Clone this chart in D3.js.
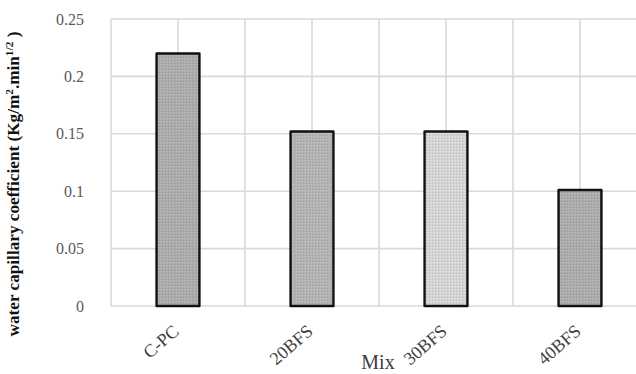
<!DOCTYPE html>
<html><head><meta charset="utf-8">
<script src="https://cdn.jsdelivr.net/npm/d3@7"></script>
<style>body{margin:0;background:#fff}svg{display:block}</style>
</head><body>
<svg id="c" width="636" height="374"></svg>
<script>
const categories = ["C-PC", "20BFS", "Mix 30BFS", "40BFS"];
const tickLabels = ["C-PC", "20BFS", "30BFS", "40BFS"];
const values = [0.22, 0.152, 0.152, 0.101];
const barColors = ["#acacac", "#b3b3b3", "#d4d4d4", "#acacac"];
const yTicks = [0, 0.05, 0.1, 0.15, 0.2, 0.25];
const yTickLabels = ["0", "0.05", "0.1", "0.15", "0.2", "0.25"];

const svg = d3.select("#c");
const L = 111, R = 647, T = 19, B = 306;
const x = d3.scaleBand().domain(categories).range([L, R]).paddingInner(0.68).paddingOuter(0.34);
const y = d3.scaleLinear().domain([0, 0.25]).range([B, T]);

// texture pattern
const defs = svg.append("defs");
barColors.forEach((c, i) => {
  const p = defs.append("pattern").attr("id", "p" + i).attr("width", 3).attr("height", 3)
    .attr("patternUnits", "userSpaceOnUse");
  p.append("rect").attr("width", 3).attr("height", 3).attr("fill", c);
  p.append("rect").attr("x", 0).attr("y", 0).attr("width", 1).attr("height", 1)
    .attr("fill", d3.color(c).darker(0.35));
  p.append("rect").attr("x", 2).attr("y", 1).attr("width", 1).attr("height", 1)
    .attr("fill", d3.color(c).brighter(0.25));
});

const grid = svg.append("g").attr("stroke", "#d9d9d9").attr("stroke-width", 1.6);
grid.selectAll("line.h").data(yTicks).join("line")
  .attr("x1", L).attr("x2", 636).attr("y1", d => y(d)).attr("y2", d => y(d));
const step = x.step();
const vx = [];
categories.forEach(c => { vx.push(x(c) + x.bandwidth() / 2 - step / 2); vx.push(x(c) + x.bandwidth() / 2); });
grid.selectAll("line.v").data(vx).join("line")
  .attr("x1", d => d).attr("x2", d => d).attr("y1", T).attr("y2", B);

// bars
svg.append("g").selectAll("rect").data(categories).join("rect")
  .attr("x", d => x(d)).attr("width", x.bandwidth())
  .attr("y", (d, i) => y(values[i])).attr("height", (d, i) => B - y(values[i]))
  .attr("fill", (d, i) => "url(#p" + i + ")")
  .attr("stroke", "#111").attr("stroke-width", 2.4).attr("stroke-linejoin", "round");

// y tick labels
svg.append("g").selectAll("text").data(yTicks).join("text")
  .attr("x", 84).attr("y", d => y(d)).attr("dy", "0.35em")
  .attr("text-anchor", "end")
  .attr("font-family", "Liberation Serif, Times New Roman, serif")
  .attr("font-size", 16).attr("fill", "#595959")
  .text((d, i) => yTickLabels[i]);

// x tick labels rotated
svg.append("g").selectAll("text").data(categories).join("text")
  .attr("transform", d => `translate(${x(d) + x.bandwidth() / 2 + 2},${333}) rotate(-41)`)
  .attr("text-anchor", "end")
  .attr("font-family", "Liberation Serif, Times New Roman, serif")
  .attr("font-size", 18).attr("fill", "#404040")
  .text((d, i) => tickLabels[i]);

// x axis title
svg.append("text").attr("x", 378).attr("y", 369).attr("text-anchor", "middle")
  .attr("font-family", "Liberation Serif, Times New Roman, serif")
  .attr("font-size", 20).attr("fill", "#404040").text("Mix");

// y axis title
const yt = svg.append("text")
  .attr("transform", "translate(19,184) rotate(-90)")
  .attr("text-anchor", "middle")
  .attr("font-family", "Liberation Serif, Times New Roman, serif")
  .attr("font-weight", "bold").attr("font-size", 16).attr("fill", "#111");
yt.append("tspan").text("water capillary coefficient (Kg/m");
yt.append("tspan").attr("dy", -6).attr("font-size", 10.5).text("2");
yt.append("tspan").attr("dy", 6).text(".min");
yt.append("tspan").attr("dy", -6).attr("font-size", 10.5).text("1/2");
yt.append("tspan").attr("dy", 6).text(" )");
const len = yt.node().getComputedTextLength();
if (len > 0) {
  const fs = 16 * 305 / len;
  yt.attr("font-size", fs);
  yt.selectAll("tspan").filter((d, i) => i === 1 || i === 3).attr("font-size", fs * 0.66);
}
</script>
</body></html>
